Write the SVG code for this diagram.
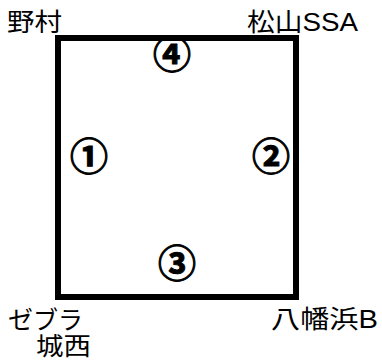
<svg xmlns="http://www.w3.org/2000/svg" width="382" height="362" viewBox="0 0 382 362">
<style>
.lbl{font-family:"Liberation Sans","Noto Sans CJK JP",sans-serif;font-size:25px;fill:#000}
.num{font-family:"Noto Sans CJK JP",sans-serif;font-size:38px;font-weight:bold;fill:#000;stroke:#000;stroke-width:1;text-anchor:middle}
</style>
<rect width="382" height="362" fill="#fff"/>
<g id="connectors">
<rect x="58" y="38" width="238" height="259" fill="none" stroke="#000" stroke-width="6"/>
</g>
<g id="nomura"><text class="lbl" x="7" y="31" textLength="55" lengthAdjust="spacingAndGlyphs">野村</text></g>
<g id="matsuyama"><text class="lbl" x="247" y="31" textLength="111" lengthAdjust="spacingAndGlyphs">松山SSA</text></g>
<g id="zebra"><text class="lbl" x="8" y="329" textLength="75" lengthAdjust="spacingAndGlyphs">ゼブラ</text><text class="lbl" x="36" y="355" textLength="55" lengthAdjust="spacingAndGlyphs">城西</text></g>
<g id="yawatahama"><text class="lbl" x="271" y="328" textLength="107" lengthAdjust="spacingAndGlyphs">八幡浜B</text></g>
<g id="n1"><text class="num" x="89" y="170">①</text></g>
<g id="n2"><text class="num" x="271" y="170">②</text></g>
<g id="n3"><text class="num" x="177" y="277">③</text></g>
<g id="n4"><text class="num" x="172" y="68">④</text></g>
</svg>
